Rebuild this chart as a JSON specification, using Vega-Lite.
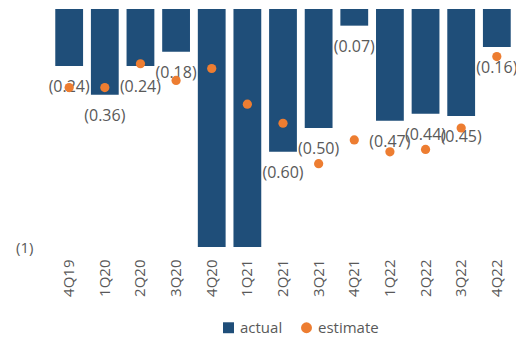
{
  "$schema": "https://vega.github.io/schema/vega-lite/v6.json",
  "width": 464,
  "height": 238,
  "padding": {"left": 15, "top": 8, "right": 0, "bottom": 0},
  "background": "#ffffff",
  "config": {
    "view": {"stroke": null},
    "font": "Open Sans",
    "axis": {"labelFont": "Open Sans", "labelFontSize": 15, "labelColor": "#595959"},
    "legend": {"labelFont": "Open Sans", "labelFontSize": 15, "labelColor": "#595959"}
  },
  "data": {
    "values": [
      {"quarter": "4Q19", "actual": -0.24, "estimate": -0.33},
      {"quarter": "1Q20", "actual": -0.36, "estimate": -0.33},
      {"quarter": "2Q20", "actual": -0.24, "estimate": -0.23},
      {"quarter": "3Q20", "actual": -0.18, "estimate": -0.30},
      {"quarter": "4Q20", "actual": -1.0, "estimate": -0.25},
      {"quarter": "1Q21", "actual": -1.0, "estimate": -0.40},
      {"quarter": "2Q21", "actual": -0.60, "estimate": -0.48},
      {"quarter": "3Q21", "actual": -0.50, "estimate": -0.65},
      {"quarter": "4Q21", "actual": -0.07, "estimate": -0.55},
      {"quarter": "1Q22", "actual": -0.47, "estimate": -0.60},
      {"quarter": "2Q22", "actual": -0.44, "estimate": -0.59},
      {"quarter": "3Q22", "actual": -0.45, "estimate": -0.50},
      {"quarter": "4Q22", "actual": -0.16, "estimate": -0.20}
    ]
  },
  "encoding": {
    "x": {
      "field": "quarter",
      "type": "nominal",
      "sort": null,
      "scale": {"paddingInner": 0.22, "paddingOuter": 0.12},
      "axis": {"title": null, "domain": false, "ticks": false, "labelAngle": -90, "labelPadding": 12}
    }
  },
  "layer": [
    {
      "mark": {"type": "rule", "color": "#d0d0d0", "strokeWidth": 2},
      "encoding": {"y": {"datum": 0, "type": "quantitative"}}
    },
    {
      "mark": {"type": "bar", "color": "#1f4e79", "clip": true},
      "encoding": {
        "y": {
          "field": "actual",
          "type": "quantitative",
          "scale": {"domain": [-1, 0], "nice": false},
          "axis": {
            "title": null,
            "grid": false,
            "domain": false,
            "ticks": false,
            "values": [-1],
            "labelPadding": 18,
            "labelExpr": "'(' + abs(datum.value) + ')'"
          }
        },
        "y2": {"datum": 0},
        "color": {
          "datum": "actual",
          "scale": {"domain": ["actual", "estimate"], "range": ["#1f4e79", "#ed7d31"]},
          "legend": {
            "title": null,
            "orient": "none",
            "legendX": 170,
            "legendY": 311,
            "direction": "horizontal",
            "symbolSize": 120,
            "symbolStrokeWidth": 0,
            "labelOffset": 4,
            "columnPadding": 16,
            "encode": {
              "symbols": {
                "update": {
                  "shape": {"signal": "datum.value === 'actual' ? 'square' : 'circle'"}
                }
              }
            }
          }
        }
      }
    },
    {
      "transform": [
        {"filter": "datum.actual > -1"},
        {"calculate": "'(' + format(abs(datum.actual), '.2f') + ')'", "as": "label"}
      ],
      "mark": {"type": "text", "dy": 21, "baseline": "middle", "fontSize": 16, "color": "#595959", "font": "Open Sans"},
      "encoding": {
        "y": {"field": "actual", "type": "quantitative"},
        "text": {"field": "label"}
      }
    },
    {
      "mark": {"type": "point", "filled": true, "shape": "circle", "size": 85, "opacity": 1},
      "encoding": {
        "y": {"field": "estimate", "type": "quantitative"},
        "color": {"datum": "estimate"}
      }
    }
  ]
}
